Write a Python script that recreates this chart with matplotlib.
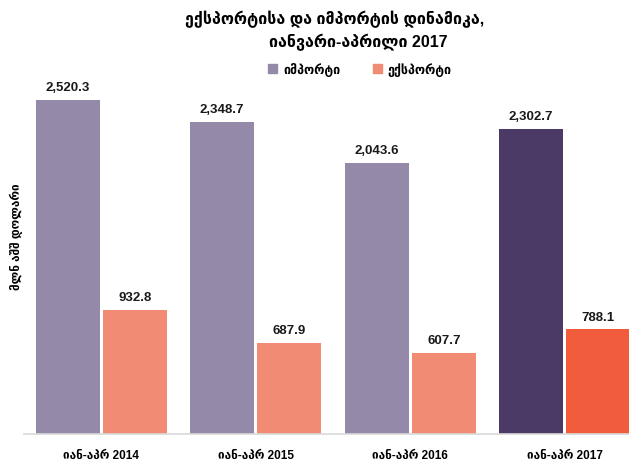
import matplotlib
matplotlib.use('Agg')
import matplotlib.pyplot as plt
import numpy as np

# data
categories = ['იან-აპრ 2014', 'იან-აპრ 2015', 'იან-აპრ 2016', 'იან-აპრ 2017']
imports = [2520.3, 2348.7, 2043.6, 2302.7]
exports = [932.8, 687.9, 607.7, 788.1]
series_names = ['იმპორტი', 'ექსპორტი']

IMP_C = '#9489A8'
EXP_C = '#F28B73'
IMP_HL = '#4B3A66'
EXP_HL = '#F05C3C'

FONT = ['Liberation Sans', 'DejaVu Sans']
plt.rcParams['font.family'] = FONT

W, H = 629, 464
fig = plt.figure(figsize=(W / 100, H / 100), dpi=100)
ax_l, ax_r, ax_b, ax_t = 24, 629, 435, 37
ax = fig.add_axes([ax_l / W, 1 - ax_b / H, (ax_r - ax_l) / W, (ax_b - ax_t) / H])

x = np.arange(len(categories))
bw = 0.414
off = 0.217
imp_colors = [IMP_C] * 3 + [IMP_HL]
exp_colors = [EXP_C] * 3 + [EXP_HL]
b1 = ax.bar(x - off, imports, bw, color=imp_colors)
b2 = ax.bar(x + off, exports, bw, color=exp_colors)

for bars, vals in ((b1, imports), (b2, exports)):
    for r, v in zip(bars, vals):
        ax.annotate(f'{v:,.1f}', (r.get_x() + r.get_width() / 2, v),
                    xytext=(0, 5), textcoords='offset points',
                    ha='center', va='bottom', fontsize=9.5,
                    fontweight='bold', color='#1a1a1a')

ax.set_xlim(-0.5, (ax_r - ax_l) / 154.5 - 0.5)
ax.set_ylim(0, 3000)
ax.set_yticks([])
ax.set_xticks(x)
ax.set_xticklabels(categories, fontsize=8.5, fontweight='bold')
ax.tick_params(axis='x', length=0, pad=11)
for s in ('top', 'right', 'left'):
    ax.spines[s].set_visible(False)
ax.spines['bottom'].set_color('#d9d9d9')
ax.spines['bottom'].set_linewidth(1.2)

# title
fig.text(335 / W, 1 - 19 / H, 'ექსპორტისა და იმპორტის დინამიკა,',
         ha='center', va='center', fontsize=11.5, fontweight='bold')
fig.text(358 / W, 1 - 42 / H, 'იანვარი-აპრილი 2017',
         ha='center', va='center', fontsize=11.5, fontweight='bold')

# legend
ax.legend([b1[0], b2[0]], series_names, loc='center', ncol=2,
          bbox_to_anchor=((360 - ax_l) / (ax_r - ax_l), (ax_b - 70) / (ax_b - ax_t)),
          frameon=False, handlelength=0.7, handleheight=0.7, columnspacing=2.6,
          handletextpad=0.5, prop={'family': FONT, 'weight': 'bold', 'size': 9})
leg = ax.get_legend()
leg.legend_handles[0].set_color(IMP_C)
leg.legend_handles[1].set_color(EXP_C)

fig.text(17 / W, 1 - 237 / H, 'მლნ აშშ დოლარი', rotation=90,
         ha='center', va='center', fontsize=8.5, fontweight='bold')

fig.savefig('out.png', dpi=100, facecolor='white')
